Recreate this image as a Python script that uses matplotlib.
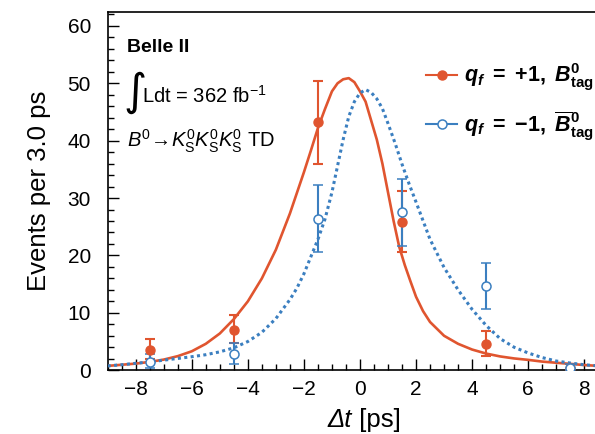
import matplotlib
matplotlib.use('Agg')
import matplotlib.pyplot as plt
from matplotlib.ticker import MultipleLocator
from matplotlib.lines import Line2D

plt.rcParams['font.family'] = ['Liberation Sans', 'DejaVu Sans']
plt.rcParams['mathtext.fontset'] = 'custom'
plt.rcParams['mathtext.rm'] = 'Liberation Sans'
plt.rcParams['mathtext.it'] = 'Liberation Sans:italic'
plt.rcParams['mathtext.bf'] = 'Liberation Sans:bold'
plt.rcParams['mathtext.bfit'] = 'Liberation Sans:italic:bold'

RED = '#e0552f'
BLUE = '#3b7fc0'

# data points (bin centres, events, asymmetric errors)
bin_x = [-7.5, -4.5, -1.5, 1.5, 4.5, 7.5]
red_y = [3.5, 7.0, 43.2, 25.8, 4.65, 0.3]
red_lo = [1.6, 2.2, 7.3, 5.2, 2.25, 0.3]
red_hi = [2.0, 2.7, 7.2, 5.4, 2.15, 0.8]
blue_y = [1.45, 2.9, 26.3, 27.6, 14.7, 0.3]
blue_lo = [1.15, 1.9, 5.7, 6.0, 4.1, 0.3]
blue_hi = [1.35, 1.9, 6.0, 5.7, 3.9, 0.8]

# fit curves
red_fx = [-9, -8.5, -8, -7.5, -7, -6.5, -6, -5.5, -5, -4.5, -4, -3.5, -3, -2.5, -2, -1.75,
          -1.5, -1.25, -1, -0.8, -0.6, -0.4, -0.2, 0, 0.2, 0.4, 0.6, 0.8, 1.0, 1.2, 1.4,
          1.6, 1.8, 2.0, 2.25, 2.5, 3, 3.5, 4, 4.5, 5, 5.5, 6, 6.5, 7, 7.5, 8, 8.5, 9]
red_fy = [0.75, 0.95, 1.15, 1.45, 1.85, 2.45, 3.3, 4.6, 6.4, 8.9, 12.0, 16.0, 21.0, 27.3,
          34.5, 38.3, 42.2, 45.5, 48.6, 50.0, 50.7, 50.9, 50.2, 48.6, 46.8, 43.5, 40.2,
          36.0, 31.0, 26.0, 21.5, 18.3, 15.5, 12.8, 10.3, 8.4, 6.0, 4.6, 3.6, 2.9, 2.4,
          2.05, 1.8, 1.5, 1.3, 1.1, 0.9, 0.75, 0.65]
blue_fx = [-9, -8.5, -8, -7.5, -7, -6.5, -6, -5.5, -5, -4.5, -4, -3.5, -3, -2.5, -2.25, -2,
           -1.75, -1.5, -1.25, -1, -0.8, -0.6, -0.4, -0.2, 0, 0.2, 0.4, 0.6, 0.8, 1.0, 1.25,
           1.5, 1.75, 2.0, 2.5, 3, 3.5, 4, 4.5, 5, 5.5, 6, 6.5, 7, 7.5, 8, 8.5, 9]
blue_fy = [0.75, 0.95, 1.2, 1.45, 1.75, 2.05, 2.35, 2.7, 3.2, 3.9, 5.0, 6.6, 9.0, 12.3,
           14.3, 16.8, 19.8, 22.8, 26.3, 31.0, 35.6, 40.2, 44.2, 46.8, 48.3, 48.9, 48.4,
           47.3, 45.6, 43.0, 39.6, 35.9, 32.5, 29.3, 22.8, 17.9, 14.0, 10.6, 7.8, 5.5,
           4.0, 3.0, 2.2, 1.6, 1.25, 0.95, 0.75, 0.6]

fig = plt.figure(figsize=(5.95, 4.34), dpi=100)
ax = fig.add_axes([0.181, 0.147, 0.848, 0.825])

ax.plot(red_fx, red_fy, color=RED, lw=1.9, zorder=3)
ax.plot(blue_fx, blue_fy, color=BLUE, lw=2.2, linestyle=(0, (1, 1.1)), zorder=3)

ax.errorbar(bin_x, red_y, yerr=[red_lo, red_hi], fmt='o', color=RED, ms=6.5,
            lw=1.5, capsize=3.5, capthick=1.5, zorder=4)
ax.errorbar(bin_x, blue_y, yerr=[blue_lo, blue_hi], fmt='o', color=BLUE, ms=6.5,
            mfc='white', mew=1.1, lw=1.5, capsize=3.5, capthick=1.5, zorder=4)

ax.set_xlim(-9, 9)
ax.set_ylim(0, 62.4)
ax.xaxis.set_major_locator(MultipleLocator(2))
ax.xaxis.set_minor_locator(MultipleLocator(0.5))
ax.yaxis.set_major_locator(MultipleLocator(10))
ax.yaxis.set_minor_locator(MultipleLocator(2))
ax.tick_params(which='both', direction='in', top=False, right=False, labelsize=15)
ax.tick_params(which='major', length=8, width=1)
ax.tick_params(which='minor', length=4.5, width=1)
ax.tick_params(axis='x', pad=7)
ax.tick_params(axis='y', pad=12)
for s in ax.spines.values():
    s.set_linewidth(1.2)
ax.set_xticks(range(-8, 9, 2))
ax.set_xticklabels(['\u22128', '\u22126', '\u22124', '\u22122', '0', '2', '4', '6', '8'])

# x label: italic "Δt" followed by upright " [ps]"
lab_y = 1 - 420 / 434
fig.text(352 / 595, lab_y, '\u0394t', fontsize=18.5, style='italic', ha='right',
         va='center')
fig.text(352 / 595, lab_y, ' [ps]', fontsize=18.5, ha='left', va='center')
ax.set_ylabel('Events per 3.0 ps', fontsize=18.5, labelpad=12)

fig.text(127 / 595, 1 - 48 / 434, 'Belle II', fontsize=14, fontweight='bold', va='center')
fig.text(123 / 595, 1 - 92 / 434, '\u222b', fontsize=32, va='center',
         family=['DejaVu Sans'])
fig.text(142 / 595, 1 - 103 / 434, r'Ldt = 362 fb$^{\mathrm{-1}}$', fontsize=14.5,
         va='baseline')
fig.text(127 / 595, 1 - 147 / 434,
         r'$B^0\!\rightarrow\! K^0_{\mathrm{S}}K^0_{\mathrm{S}}K^0_{\mathrm{S}}$ TD',
         fontsize=14.5, va='baseline')

h_red = Line2D([], [], color=RED, lw=1.5, marker='o', ms=6.5)
h_blue = Line2D([], [], color=BLUE, lw=1.5, marker='o', ms=6.5, mfc='white', mew=1.1)
labels = [r'$\boldsymbol{q}_{\boldsymbol{f}}$ $\mathbf{=}$ +$\mathbf{1,}$ $\boldsymbol{B}^{\mathbf{0}}_{\mathbf{tag}}$',
          r'$\boldsymbol{q}_{\boldsymbol{f}}$ $\mathbf{=}$ $\mathbf{-1,}$ $\overline{\boldsymbol{B}}^{\mathbf{0}}_{\mathbf{tag}}$']
leg = ax.legend([h_red, h_blue], labels, loc='upper left',
                bbox_to_anchor=(426 / 595, 1 - 62 / 434), bbox_transform=fig.transFigure,
                frameon=False, fontsize=15.5, handlelength=1.45, handletextpad=0.3,
                labelspacing=0.75, borderpad=0, borderaxespad=0)
for t in leg.get_texts():
    t.set_fontweight('bold')

fig.savefig('out.png', dpi=100)
